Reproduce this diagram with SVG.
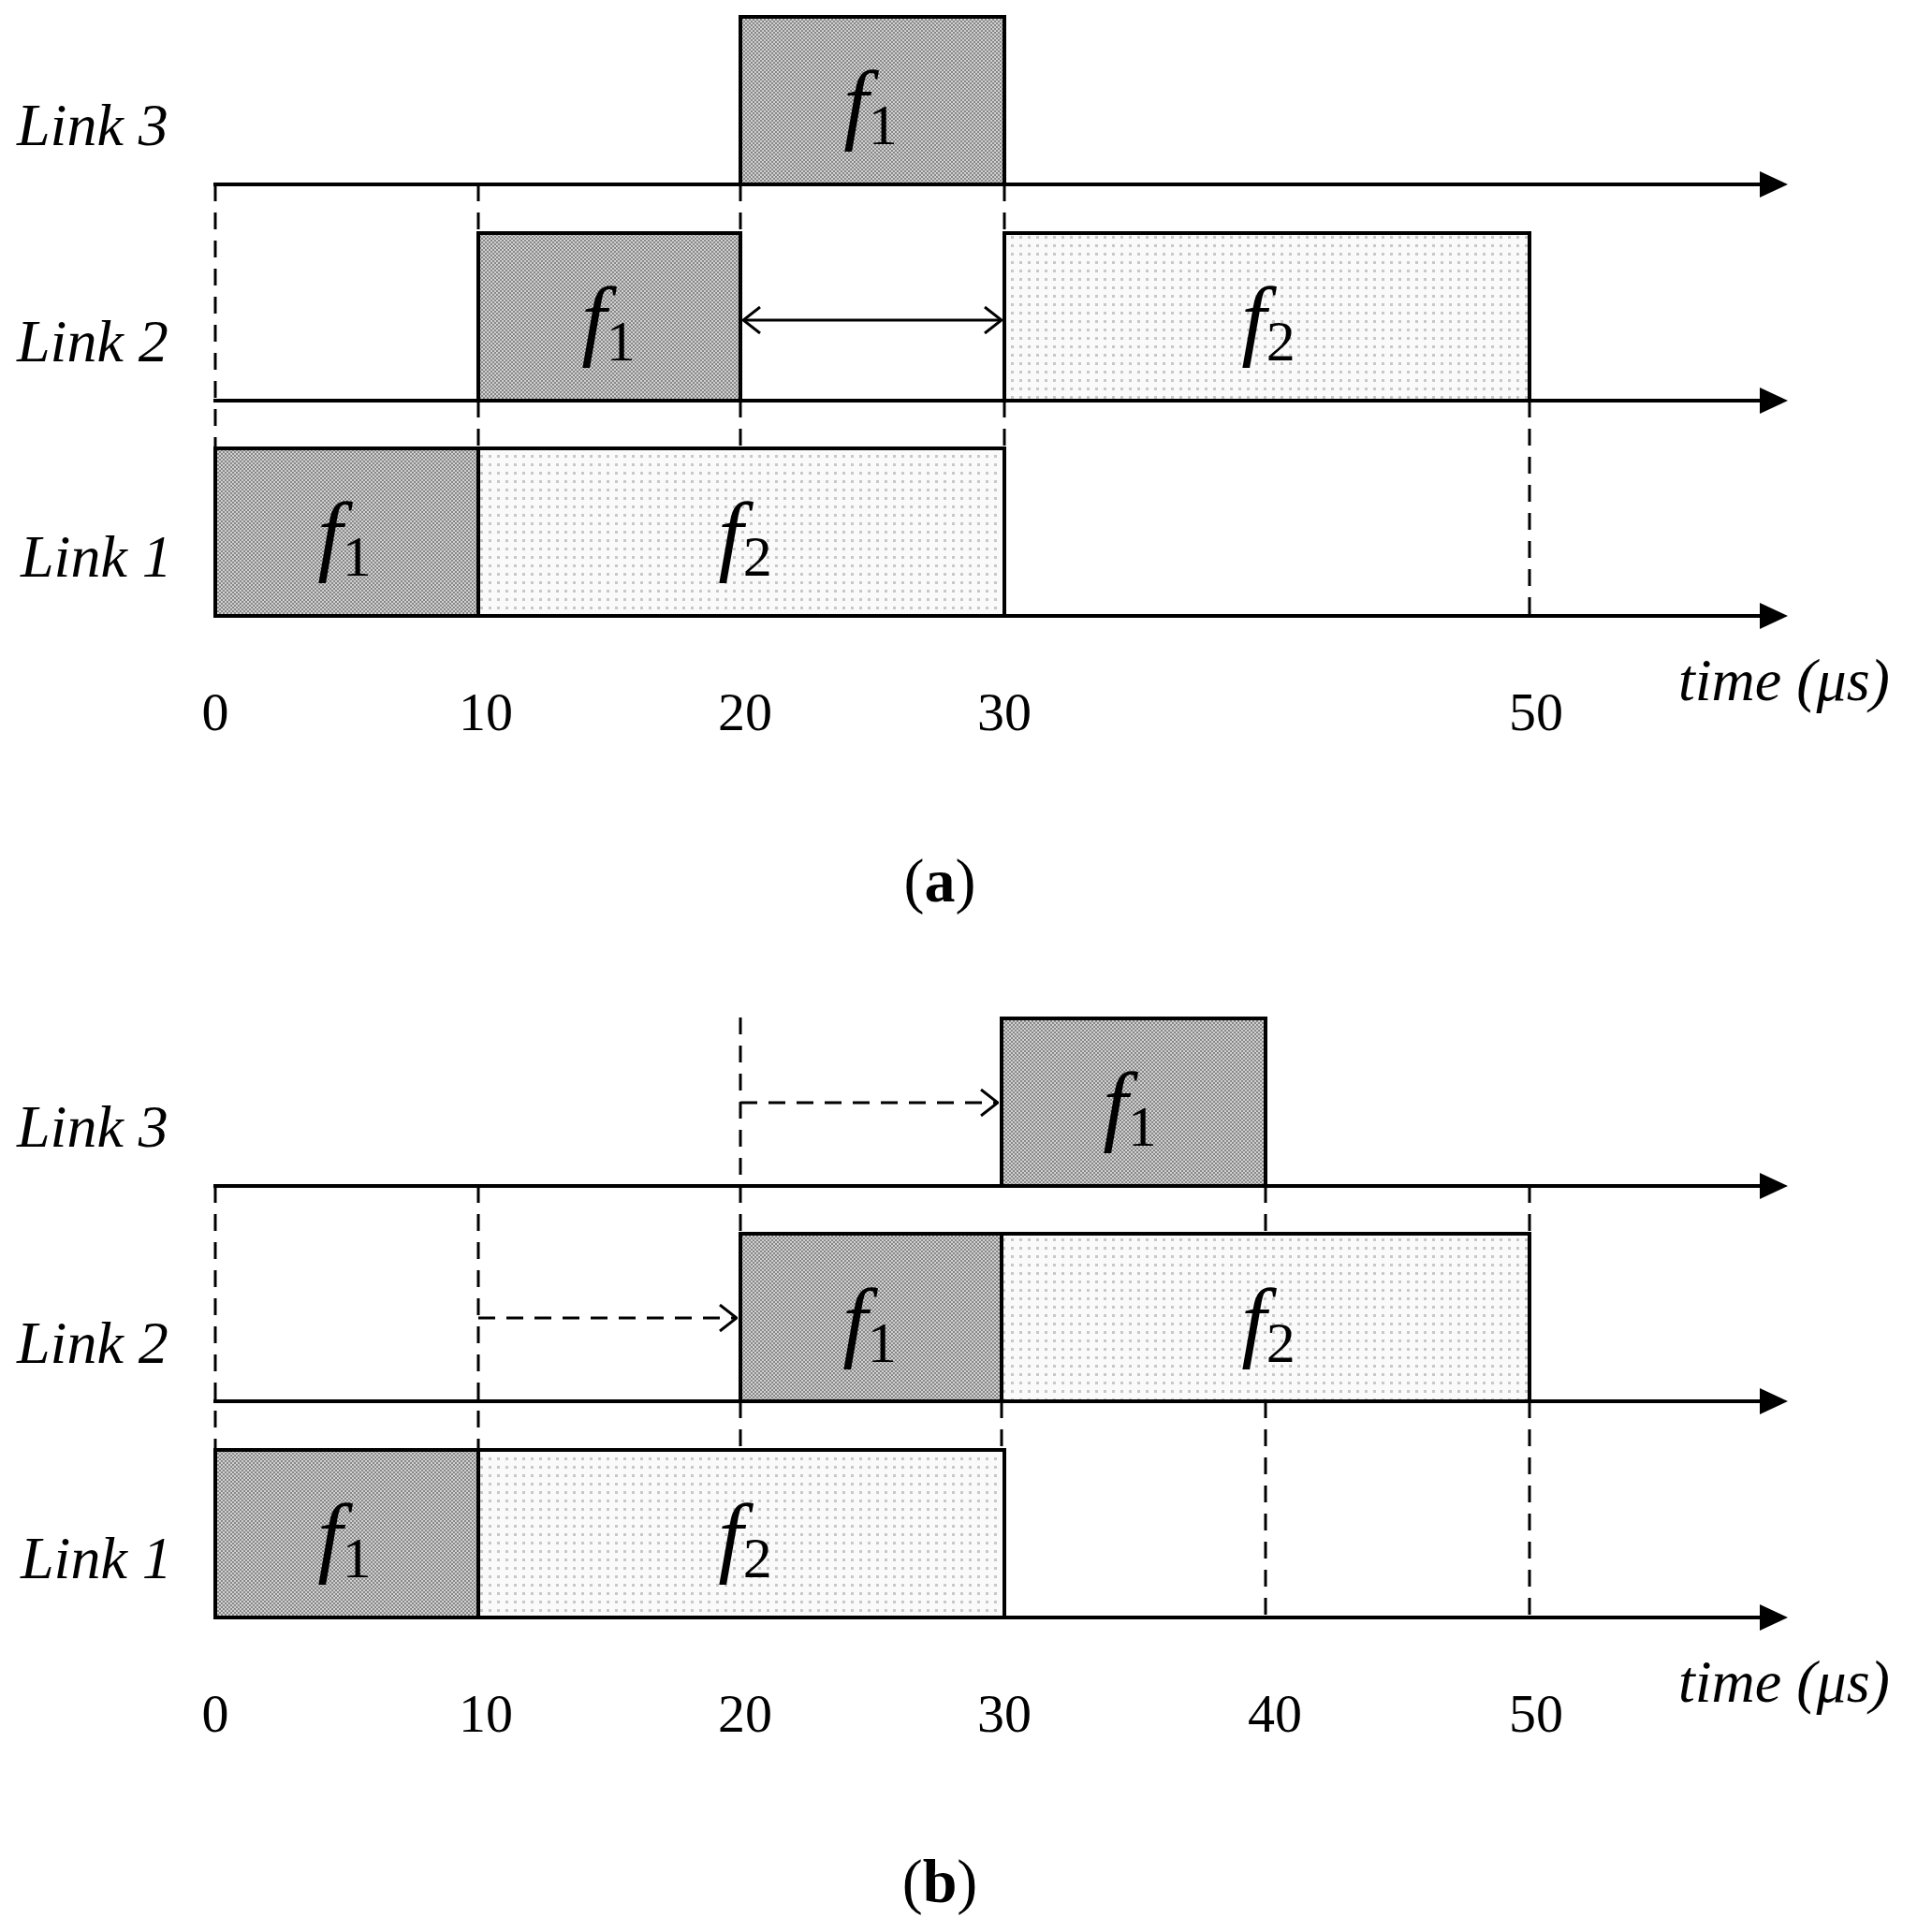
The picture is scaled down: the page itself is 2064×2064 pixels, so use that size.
<svg xmlns="http://www.w3.org/2000/svg" width="2064" height="2064" viewBox="0 0 2064 2064">
<defs>
<pattern id="dk" width="4" height="4" patternUnits="userSpaceOnUse"><rect width="4" height="4" fill="#d0d0d0"/><rect width="2" height="2" fill="#888"/><rect x="2" y="2" width="2" height="2" fill="#888"/></pattern>
<pattern id="lt" width="9" height="9" patternUnits="userSpaceOnUse"><rect width="9" height="9" fill="#fafafa"/><rect width="3" height="3" fill="#c8c8c8"/></pattern>
<marker id="oa" viewBox="0 0 20 30" refX="19" refY="15" markerWidth="20" markerHeight="30" markerUnits="userSpaceOnUse" orient="auto-start-reverse"><path d="M1,1 L19,15 L1,29" fill="none" stroke="#000" stroke-width="3"/></marker>
</defs>
<style>
.ax{stroke:#000;stroke-width:4;fill:none}
.dash{stroke:#000;stroke-width:3;stroke-dasharray:18,12;fill:none}
.box{stroke:#000;stroke-width:4}
.lbl{font-family:"Liberation Serif",serif;font-style:italic;font-size:64px}
.num{font-family:"Liberation Serif",serif;font-size:58px;text-anchor:middle}
.f{font-family:"Liberation Serif",serif;font-style:italic;font-size:96px;text-anchor:middle}
.cap{font-family:"Liberation Serif",serif;font-size:66px;text-anchor:middle}
</style>
<g id="panel-a">
<g id="a-boxes">
<rect class="box" x="791" y="18" width="282" height="179" fill="url(#dk)"/>
<rect class="box" x="511" y="249" width="280" height="179" fill="url(#dk)"/>
<rect class="box" x="1073" y="249" width="561" height="179" fill="url(#lt)"/>
<rect class="box" x="230" y="479" width="281" height="179" fill="url(#dk)"/>
<rect class="box" x="511" y="479" width="562" height="179" fill="url(#lt)"/>
</g>
<g id="a-connectors">
<line class="ax" x1="228" y1="197" x2="1890" y2="197"/><path d="M1880,183 L1910,197 L1880,211 z"/>
<line class="ax" x1="228" y1="428" x2="1890" y2="428"/><path d="M1880,414 L1910,428 L1880,442 z"/>
<line class="ax" x1="228" y1="658" x2="1890" y2="658"/><path d="M1880,644 L1910,658 L1880,672 z"/>
<path class="dash" d="M230,197V479 M511,197V249 M511,428V479 M791,197V249 M791,428V479 M1073,197V249 M1073,428V479 M1634,428V658"/>
<line x1="794" y1="342" x2="1070" y2="342" stroke="#000" stroke-width="3" marker-start="url(#oa)" marker-end="url(#oa)"/>
</g>
<text class="f" x="930" y="142">f<tspan font-size="62" font-style="normal" dy="12">1</tspan></text>
<text class="f" x="650" y="373">f<tspan font-size="62" font-style="normal" dy="12">1</tspan></text>
<text class="f" x="1355" y="373">f<tspan font-size="62" font-style="normal" dy="12">2</tspan></text>
<text class="f" x="368" y="603">f<tspan font-size="62" font-style="normal" dy="12">1</tspan></text>
<text class="f" x="796" y="603">f<tspan font-size="62" font-style="normal" dy="12">2</tspan></text>
<text class="lbl" x="18" y="155">Link 3</text>
<text class="lbl" x="18" y="386">Link 2</text>
<text class="lbl" x="22" y="616">Link 1</text>
<text class="lbl" x="1793" y="748">time (μs)</text>
<text class="num" x="230" y="780">0</text><text class="num" x="519" y="780">10</text><text class="num" x="796" y="780">20</text><text class="num" x="1073" y="780">30</text><text class="num" x="1641" y="780">50</text>
<text class="cap" x="1004" y="963">(<tspan font-weight="bold">a</tspan>)</text>
</g>
<g id="panel-b">
<g id="b-boxes">
<rect class="box" x="1070" y="1088" width="282" height="179" fill="url(#dk)"/>
<rect class="box" x="791" y="1318" width="279" height="179" fill="url(#dk)"/>
<rect class="box" x="1070" y="1318" width="564" height="179" fill="url(#lt)"/>
<rect class="box" x="230" y="1549" width="281" height="179" fill="url(#dk)"/>
<rect class="box" x="511" y="1549" width="562" height="179" fill="url(#lt)"/>
</g>
<g id="b-connectors">
<line class="ax" x1="228" y1="1267" x2="1890" y2="1267"/><path d="M1880,1253 L1910,1267 L1880,1281 z"/>
<line class="ax" x1="228" y1="1497" x2="1890" y2="1497"/><path d="M1880,1483 L1910,1497 L1880,1511 z"/>
<line class="ax" x1="228" y1="1728" x2="1890" y2="1728"/><path d="M1880,1714 L1910,1728 L1880,1742 z"/>
<path class="dash" d="M230,1267V1549 M511,1267V1549 M791,1087V1318 M791,1497V1549 M1070,1497V1549 M1352,1267V1318 M1352,1497V1728 M1634,1267V1318 M1634,1497V1728"/>
<line class="dash" x1="791" y1="1178" x2="1066" y2="1178" marker-end="url(#oa)"/>
<line class="dash" x1="511" y1="1408" x2="787" y2="1408" marker-end="url(#oa)"/>
</g>
<text class="f" x="1207" y="1212">f<tspan font-size="62" font-style="normal" dy="12">1</tspan></text>
<text class="f" x="929" y="1443">f<tspan font-size="62" font-style="normal" dy="12">1</tspan></text>
<text class="f" x="1355" y="1443">f<tspan font-size="62" font-style="normal" dy="12">2</tspan></text>
<text class="f" x="368" y="1673">f<tspan font-size="62" font-style="normal" dy="12">1</tspan></text>
<text class="f" x="796" y="1673">f<tspan font-size="62" font-style="normal" dy="12">2</tspan></text>
<text class="lbl" x="18" y="1225">Link 3</text>
<text class="lbl" x="18" y="1456">Link 2</text>
<text class="lbl" x="22" y="1686">Link 1</text>
<text class="lbl" x="1793" y="1818">time (μs)</text>
<text class="num" x="230" y="1850">0</text><text class="num" x="519" y="1850">10</text><text class="num" x="796" y="1850">20</text><text class="num" x="1073" y="1850">30</text><text class="num" x="1362" y="1850">40</text><text class="num" x="1641" y="1850">50</text>
<text class="cap" x="1004" y="2032">(<tspan font-weight="bold">b</tspan>)</text>
</g>
</svg>
